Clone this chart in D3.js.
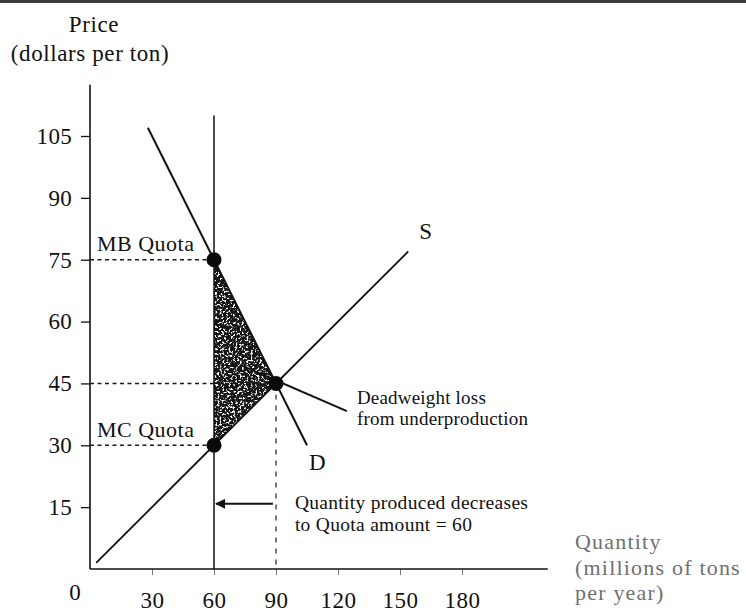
<!DOCTYPE html>
<html>
<head>
<meta charset="utf-8">
<script src="https://cdn.jsdelivr.net/npm/d3@7"></script>
<style>
  html, body { margin: 0; padding: 0; background: #fff; }
  svg { display: block; }
  text { font-family: "Liberation Serif", "Times New Roman", serif; fill: #111; }
</style>
</head>
<body>
<svg id="chart" width="746" height="614"></svg>
<script>
// ---- Data ----
const qTicks = [30, 60, 90, 120, 150, 180];
const pTicks = [15, 30, 45, 60, 75, 90, 105];
const demandQ = [28, 105];
const demandP = [107, 30];
const supplyQ = [3, 154];
const supplyP = [1.5, 77];
const quotaQ = 60;
const quotaTopP = 110;
const pointQ = [60, 90, 60];
const pointP = [75, 45, 30];
const dwlQ = [60, 90, 60];
const dwlP = [75, 45, 30];
const pointerQ = [72.6, 124.3];
const pointerP = [49.5, 38.3];
const arrowQ = [88.5, 61];
const arrowP = 15.8;
const xAxisMax = 221.5;
const yAxisMax = 117.4;

// ---- Setup ----
const svg = d3.select("#chart");
const x = d3.scaleLinear().domain([0, 180]).range([90, 462]);
const y = d3.scaleLinear().domain([0, 105]).range([569, 136]);

const defs = svg.append("defs");
const f = defs.append("filter").attr("id", "speck")
  .attr("x", 0).attr("y", 0).attr("width", 1).attr("height", 1);
f.append("feTurbulence").attr("type", "fractalNoise").attr("baseFrequency", 0.45)
  .attr("numOctaves", 3).attr("seed", 11).attr("result", "noise");
f.append("feColorMatrix").attr("in", "noise").attr("type", "matrix")
  .attr("values", "0 0 0 0 1  0 0 0 0 1  0 0 0 0 1  -7 0 0 0 3.3").attr("result", "spots");
f.append("feComposite").attr("in", "spots").attr("in2", "SourceAlpha").attr("operator", "in");

defs.append("marker").attr("id", "arrowhead").attr("viewBox", "0 0 10 10")
  .attr("refX", 9).attr("refY", 5).attr("markerWidth", 6).attr("markerHeight", 5)
  .attr("markerUnits", "strokeWidth").attr("orient", "auto")
  .append("path").attr("d", "M0,0 L10,5 L0,10 Z").attr("fill", "#111");

// top scan bar
svg.append("rect").attr("x", 0).attr("y", 0).attr("width", 746).attr("height", 3).attr("fill", "#3c3c3c");

// ---- Axes ----
const xAxis = d3.axisBottom(x).tickValues(qTicks).tickSize(6).tickPadding(17).tickFormat(d3.format("d"));
const gx = svg.append("g").attr("transform", `translate(0,${y(0)})`).call(xAxis);
gx.select(".domain").remove();
gx.selectAll(".tick line").attr("stroke", "#777").attr("stroke-width", 1);
gx.selectAll(".tick text").attr("font-size", 23).attr("letter-spacing", 0.5)
  .attr("font-family", "Liberation Serif").attr("fill", "#111");

const yAxis = d3.axisLeft(y).tickValues(pTicks).tickSize(9).tickPadding(9).tickFormat(d3.format("d"));
const gy = svg.append("g").attr("transform", `translate(${x(0)},0)`).call(yAxis);
gy.select(".domain").remove();
gy.selectAll(".tick line").attr("stroke", "#111").attr("stroke-width", 1.3);
gy.selectAll(".tick text").attr("font-size", 23).attr("letter-spacing", 0.3)
  .attr("font-family", "Liberation Serif").attr("fill", "#111");

svg.append("line").attr("x1", x(0)).attr("x2", x(xAxisMax)).attr("y1", y(0)).attr("y2", y(0))
  .attr("stroke", "#111").attr("stroke-width", 1.6);
svg.append("line").attr("x1", x(0)).attr("x2", x(0)).attr("y1", y(0)).attr("y2", y(yAxisMax))
  .attr("stroke", "#111").attr("stroke-width", 1.6);

svg.append("text").attr("x", x(0) - 15).attr("y", y(0) + 31).attr("text-anchor", "middle")
  .attr("font-size", 23).text("0");

// axis titles
svg.append("text").attr("x", x(0) + 4).attr("y", 32).attr("text-anchor", "middle")
  .attr("font-size", 23).attr("letter-spacing", 0.6).text("Price");
svg.append("text").attr("x", x(0)).attr("y", 61).attr("text-anchor", "middle")
  .attr("font-size", 23).attr("letter-spacing", 0.6).text("(dollars per ton)");

const qLab = svg.append("text").attr("font-size", 22).attr("letter-spacing", 1.2)
  .style("fill", "#707070");
qLab.append("tspan").attr("x", 575).attr("y", 549).text("Quantity");
qLab.append("tspan").attr("x", 575).attr("y", 575).text("(millions of tons");
qLab.append("tspan").attr("x", 575).attr("y", 600).text("per year)");

// ---- Deadweight loss triangle ----
const tri = d3.line().x((d, i) => x(dwlQ[i])).y((d, i) => y(dwlP[i])).curve(d3.curveLinearClosed);
svg.append("path").attr("d", tri(dwlQ)).attr("fill", "#151515");
svg.append("path").attr("d", tri(dwlQ)).attr("fill", "#000").attr("filter", "url(#speck)");

// ---- Dashed guides ----
const dash = svg.append("g").attr("stroke", "#1a1a1a").attr("stroke-width", 1.4).attr("stroke-dasharray", "4,3.5");
[[pointQ[0], pointP[0]], [pointQ[1], pointP[1]], [pointQ[2], pointP[2]]].forEach(([q, p]) => {
  dash.append("line").attr("x1", x(0)).attr("x2", x(q)).attr("y1", y(p)).attr("y2", y(p));
});
svg.append("line").attr("x1", x(pointQ[1])).attr("x2", x(pointQ[1])).attr("y1", y(pointP[1])).attr("y2", y(0))
  .attr("stroke", "#333").attr("stroke-width", 1.3).attr("stroke-dasharray", "5,6");

// ---- Quota line ----
svg.append("line").attr("x1", x(quotaQ)).attr("x2", x(quotaQ)).attr("y1", y(quotaTopP)).attr("y2", y(0))
  .attr("stroke", "#111").attr("stroke-width", 1.5);

// ---- Curves ----
const line2 = (qs, ps) => d3.line()(qs.map((q, i) => [x(q), y(ps[i])]));
svg.append("path").attr("d", line2(demandQ, demandP)).attr("stroke", "#111").attr("stroke-width", 2).attr("fill", "none");
svg.append("path").attr("d", line2(supplyQ, supplyP)).attr("stroke", "#111").attr("stroke-width", 1.8).attr("fill", "none");

// pointer
svg.append("path").attr("d", line2(pointerQ, pointerP)).attr("stroke", "#111").attr("stroke-width", 2).attr("fill", "none");

// arrow
svg.append("line").attr("x1", x(arrowQ[0])).attr("x2", x(arrowQ[1])).attr("y1", y(arrowP)).attr("y2", y(arrowP))
  .attr("stroke", "#111").attr("stroke-width", 2).attr("marker-end", "url(#arrowhead)");

// points
svg.selectAll("circle.pt").data(pointQ).join("circle").attr("class", "pt")
  .attr("cx", d => x(d)).attr("cy", (d, i) => y(pointP[i])).attr("r", 7.5).attr("fill", "#0a0a0a");

// ---- Labels ----
svg.append("text").attr("x", x(0) + 7).attr("y", y(75) - 9).attr("font-size", 22).attr("letter-spacing", 0.5).text("MB Quota");
svg.append("text").attr("x", x(0) + 7).attr("y", y(30) - 8).attr("font-size", 22).attr("letter-spacing", 0.5).text("MC Quota");
svg.append("text").attr("x", x(supplyQ[1]) + 11).attr("y", y(supplyP[1]) - 12).attr("font-size", 23).text("S");
svg.append("text").attr("x", x(demandQ[1]) + 2).attr("y", y(demandP[1]) + 25).attr("font-size", 23).text("D");

const dw = svg.append("text").attr("font-size", 19).attr("letter-spacing", 0.2);
dw.append("tspan").attr("x", x(pointerQ[1]) + 10).attr("y", 404).text("Deadweight loss");
dw.append("tspan").attr("x", x(pointerQ[1]) + 10).attr("y", 425).text("from underproduction");

const qp = svg.append("text").attr("font-size", 19.5).attr("letter-spacing", 0.3);
qp.append("tspan").attr("x", x(arrowQ[0]) + 22).attr("y", 509).text("Quantity produced decreases");
qp.append("tspan").attr("x", x(arrowQ[0]) + 22).attr("y", 531).text("to Quota amount = 60");
</script>
</body>
</html>
